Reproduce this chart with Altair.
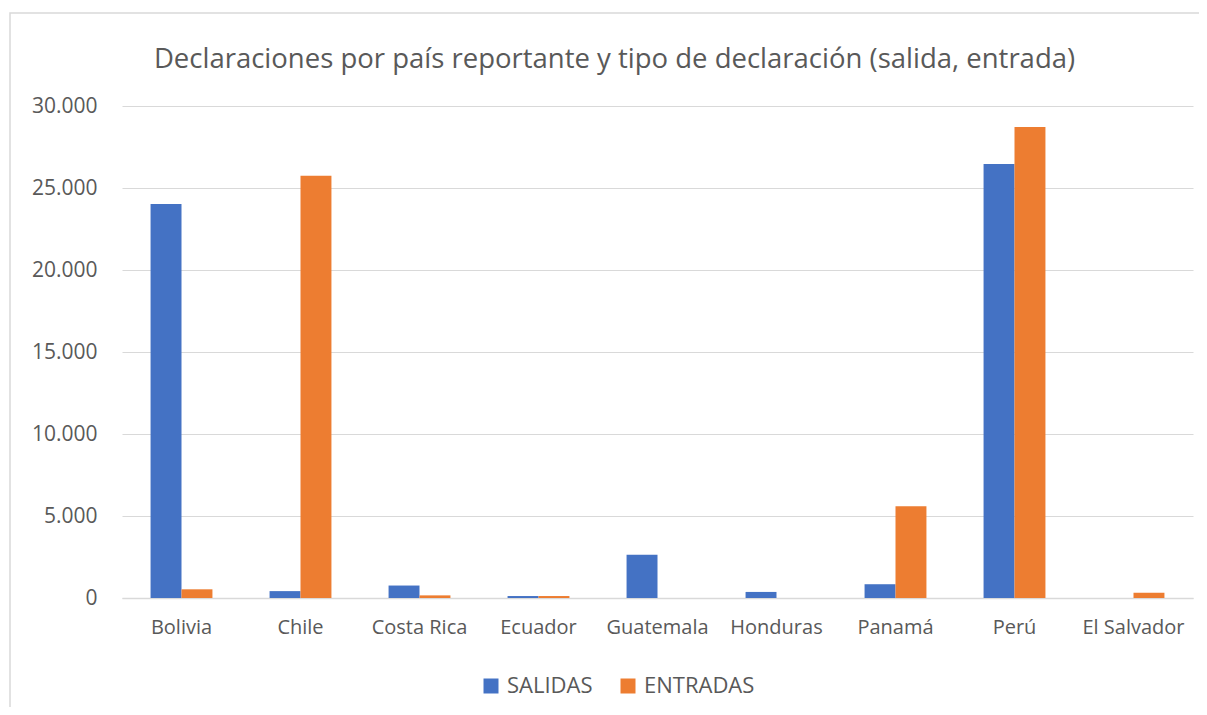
import altair as alt
import pandas as pd

paises = ["Bolivia", "Chile", "Costa Rica", "Ecuador", "Guatemala", "Honduras", "Panamá", "Perú", "El Salvador"]
salidas = [24020, 420, 760, 120, 2640, 370, 840, 26460, 0]
entradas = [530, 25740, 160, 120, 0, 0, 5600, 28720, 320]
tipos = ["SALIDAS", "ENTRADAS"]
y_ticks = [0, 5000, 10000, 15000, 20000, 25000, 30000]

rows = []
for p, s, e in zip(paises, salidas, entradas):
    rows.append({"pais": p, "tipo": tipos[0], "valor": s})
    rows.append({"pais": p, "tipo": tipos[1], "valor": e})
df = pd.DataFrame(rows)

FONT = "Open Sans"
GRAY = "#595959"
W, H = 1071, 492

bars = alt.Chart(df).mark_bar().encode(
    x=alt.X("pais:N", sort=paises, title=None,
            scale=alt.Scale(paddingInner=0.48, paddingOuter=0.24),
            axis=alt.Axis(labelAngle=0, labelFontSize=20, labelColor=GRAY, labelFont=FONT,
                          ticks=False, domainColor="#d9d9d9", domainWidth=1.5, labelPadding=19)),
    xOffset=alt.XOffset("tipo:N", sort=tipos),
    y=alt.Y("valor:Q", title=None,
            scale=alt.Scale(domain=[0, 30000]),
            axis=alt.Axis(values=y_ticks, labelExpr="replace(format(datum.value, ','), ',', '.')",
                          labelFontSize=21, labelColor=GRAY, labelFont=FONT, ticks=False,
                          domain=False, gridColor="#d9d9d9", gridWidth=1, labelPadding=25)),
    color=alt.Color("tipo:N", sort=tipos,
                    scale=alt.Scale(domain=tipos, range=["#4472C4", "#ED7D31"]),
                    legend=alt.Legend(title=None, orient="none", direction="horizontal",
                                      legendX=358, legendY=569, symbolType="square",
                                      symbolSize=225, symbolStrokeWidth=0, labelFontSize=22,
                                      labelColor=GRAY, labelFont=FONT, columnPadding=24,
                                      labelOffset=5)),
)

frame = alt.Chart(pd.DataFrame({"a": [0]})).mark_rect(
    fill=None, stroke="#d9d9d9", strokeWidth=1.5, clip=False
).encode(
    x=alt.value(-112), x2=alt.value(1090), y=alt.value(-93), y2=alt.value(615)
)

chart = alt.layer(frame, bars).properties(
    width=W, height=H,
    autosize=alt.AutoSizeParams(type="none"),
    padding={"left": 114, "top": 98, "right": 6, "bottom": 109},
    title=alt.TitleParams("Declaraciones por país reportante y tipo de declaración (salida, entrada)",
                          fontSize=27.5, font=FONT, fontWeight="normal", color=GRAY,
                          anchor="middle", dx=-43, offset=-61),
).configure_view(stroke=None)

chart.save("out.html", embed_options={"renderer": "svg", "actions": False})
